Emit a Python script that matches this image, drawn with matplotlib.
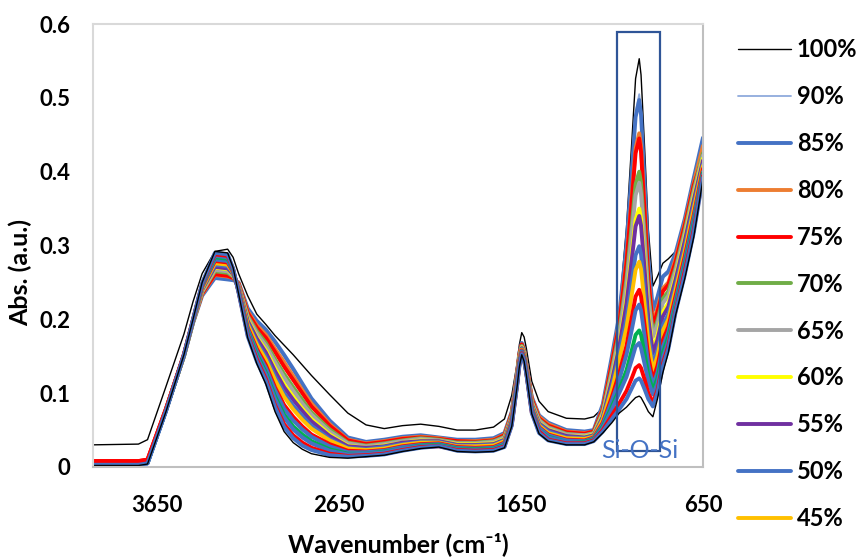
import matplotlib
matplotlib.use("Agg")
import matplotlib.pyplot as plt
from matplotlib.patches import Rectangle
from matplotlib.ticker import FuncFormatter

plt.rcParams['font.family'] = ['Lato', 'DejaVu Sans']

#---------------------------------------------------- wavenumbers (cm-1)
wavenumber = [4000, 3750, 3700, 3600, 3500, 3450, 3400, 3330, 3260, 3230,
              3200, 3150, 3100, 3050, 3000, 2950, 2900, 2850, 2800, 2700, 2600,
              2500, 2400, 2300, 2200, 2100, 2000, 1900,
              1800, 1740, 1700, 1670, 1658, 1645, 1632, 1620, 1590, 1550, 1500, 1400, 1300,
              1250, 1200, 1150, 1110, 1070, 1040, 1020, 1000, 990, 970, 950,
              925, 900, 870, 840, 800, 750, 700, 650]

#---------------------------------------------------- absorbance of each sample
abs_100 = [0.030, 0.031, 0.037, 0.108, 0.180, 0.224, 0.262, 0.292, 0.295, 0.284,
           0.262, 0.232, 0.207, 0.193, 0.178, 0.165, 0.152, 0.138, 0.124, 0.098, 0.073,
           0.057, 0.052, 0.056, 0.058, 0.055, 0.050, 0.050,
           0.054, 0.065, 0.097, 0.141, 0.166, 0.182, 0.176, 0.161, 0.116, 0.089, 0.075, 0.066, 0.065,
           0.068, 0.080, 0.120, 0.211, 0.324, 0.444, 0.526, 0.553, 0.531, 0.430, 0.322,
           0.245, 0.258, 0.276, 0.282, 0.292, 0.335, 0.385, 0.430]
abs_90 = [0.005, 0.005, 0.007, 0.077, 0.150, 0.195, 0.233, 0.257, 0.255, 0.253,
          0.249, 0.213, 0.196, 0.184, 0.167, 0.149, 0.130, 0.110, 0.090, 0.061, 0.039,
          0.033, 0.036, 0.040, 0.042, 0.040, 0.036, 0.036,
          0.038, 0.045, 0.074, 0.129, 0.154, 0.167, 0.159, 0.139, 0.094, 0.069, 0.059, 0.049, 0.047,
          0.050, 0.085, 0.148, 0.205, 0.304, 0.409, 0.481, 0.505, 0.485, 0.389, 0.288,
          0.215, 0.232, 0.256, 0.262, 0.287, 0.333, 0.388, 0.440]
abs_85 = [0.004, 0.004, 0.006, 0.076, 0.150, 0.195, 0.232, 0.256, 0.254, 0.253,
          0.250, 0.215, 0.198, 0.186, 0.170, 0.152, 0.133, 0.113, 0.093, 0.063, 0.040,
          0.034, 0.037, 0.041, 0.043, 0.040, 0.037, 0.037,
          0.039, 0.046, 0.075, 0.130, 0.155, 0.168, 0.160, 0.140, 0.095, 0.070, 0.060, 0.050, 0.048,
          0.050, 0.085, 0.150, 0.205, 0.301, 0.404, 0.474, 0.497, 0.477, 0.383, 0.283,
          0.212, 0.230, 0.258, 0.265, 0.290, 0.336, 0.392, 0.446]
abs_80 = [0.004, 0.004, 0.006, 0.076, 0.150, 0.196, 0.234, 0.260, 0.258, 0.256,
          0.249, 0.211, 0.192, 0.179, 0.160, 0.142, 0.123, 0.104, 0.086, 0.058, 0.037,
          0.032, 0.035, 0.039, 0.041, 0.039, 0.035, 0.035,
          0.037, 0.044, 0.073, 0.128, 0.153, 0.166, 0.158, 0.139, 0.093, 0.068, 0.058, 0.048, 0.046,
          0.048, 0.080, 0.142, 0.197, 0.281, 0.370, 0.432, 0.452, 0.434, 0.349, 0.259,
          0.195, 0.215, 0.242, 0.250, 0.282, 0.330, 0.385, 0.435]
abs_75 = [0.008, 0.008, 0.010, 0.078, 0.151, 0.197, 0.235, 0.261, 0.259, 0.256,
          0.248, 0.209, 0.189, 0.175, 0.156, 0.136, 0.118, 0.100, 0.082, 0.056, 0.036,
          0.031, 0.034, 0.038, 0.040, 0.038, 0.035, 0.034,
          0.036, 0.043, 0.072, 0.127, 0.152, 0.166, 0.157, 0.138, 0.092, 0.066, 0.056, 0.047, 0.045,
          0.048, 0.078, 0.140, 0.193, 0.276, 0.364, 0.425, 0.445, 0.427, 0.343, 0.254,
          0.190, 0.210, 0.238, 0.247, 0.278, 0.327, 0.382, 0.420]
abs_70 = [0.004, 0.004, 0.006, 0.076, 0.150, 0.196, 0.237, 0.265, 0.263, 0.258,
          0.246, 0.205, 0.184, 0.168, 0.146, 0.126, 0.108, 0.091, 0.074, 0.051, 0.033,
          0.029, 0.032, 0.036, 0.039, 0.037, 0.033, 0.033,
          0.035, 0.041, 0.070, 0.125, 0.150, 0.164, 0.156, 0.136, 0.089, 0.064, 0.054, 0.045, 0.043,
          0.046, 0.075, 0.132, 0.183, 0.255, 0.331, 0.383, 0.400, 0.385, 0.312, 0.235,
          0.180, 0.198, 0.228, 0.238, 0.270, 0.320, 0.376, 0.425]
abs_65 = [0.004, 0.004, 0.006, 0.076, 0.150, 0.197, 0.237, 0.267, 0.265, 0.259,
          0.246, 0.203, 0.181, 0.164, 0.142, 0.121, 0.103, 0.086, 0.071, 0.048, 0.032,
          0.028, 0.031, 0.035, 0.038, 0.036, 0.032, 0.032,
          0.034, 0.040, 0.069, 0.124, 0.149, 0.163, 0.155, 0.136, 0.088, 0.063, 0.053, 0.044, 0.043,
          0.045, 0.073, 0.128, 0.177, 0.246, 0.318, 0.368, 0.385, 0.370, 0.301, 0.228,
          0.176, 0.193, 0.222, 0.232, 0.266, 0.316, 0.372, 0.422]
abs_60 = [0.004, 0.004, 0.006, 0.076, 0.151, 0.197, 0.239, 0.270, 0.268, 0.260,
          0.244, 0.200, 0.176, 0.158, 0.134, 0.112, 0.095, 0.079, 0.065, 0.044, 0.029,
          0.026, 0.029, 0.033, 0.036, 0.035, 0.031, 0.031,
          0.032, 0.038, 0.067, 0.122, 0.148, 0.162, 0.154, 0.134, 0.086, 0.060, 0.051, 0.042, 0.041,
          0.044, 0.070, 0.120, 0.166, 0.227, 0.291, 0.335, 0.350, 0.337, 0.274, 0.208,
          0.160, 0.178, 0.210, 0.222, 0.258, 0.310, 0.366, 0.418]
abs_55 = [0.004, 0.004, 0.006, 0.076, 0.151, 0.197, 0.240, 0.271, 0.269, 0.261,
          0.244, 0.198, 0.174, 0.155, 0.130, 0.108, 0.091, 0.076, 0.062, 0.042, 0.028,
          0.026, 0.028, 0.033, 0.035, 0.035, 0.030, 0.030,
          0.031, 0.037, 0.067, 0.122, 0.147, 0.161, 0.153, 0.134, 0.085, 0.059, 0.050, 0.042, 0.040,
          0.043, 0.068, 0.117, 0.162, 0.221, 0.283, 0.326, 0.340, 0.327, 0.266, 0.201,
          0.154, 0.172, 0.204, 0.217, 0.254, 0.306, 0.362, 0.415]
abs_50 = [0.003, 0.003, 0.005, 0.075, 0.151, 0.197, 0.241, 0.274, 0.272, 0.262,
          0.243, 0.195, 0.169, 0.149, 0.123, 0.100, 0.083, 0.069, 0.056, 0.038, 0.026,
          0.024, 0.027, 0.031, 0.034, 0.034, 0.029, 0.029,
          0.030, 0.036, 0.065, 0.120, 0.146, 0.160, 0.152, 0.133, 0.084, 0.058, 0.048, 0.040, 0.039,
          0.042, 0.066, 0.110, 0.153, 0.201, 0.252, 0.287, 0.299, 0.288, 0.235, 0.180,
          0.140, 0.158, 0.192, 0.207, 0.246, 0.298, 0.355, 0.410]
abs_45 = [0.004, 0.004, 0.006, 0.076, 0.151, 0.198, 0.242, 0.276, 0.274, 0.263,
          0.242, 0.193, 0.166, 0.145, 0.118, 0.095, 0.078, 0.064, 0.052, 0.036, 0.025,
          0.023, 0.025, 0.030, 0.033, 0.033, 0.028, 0.028,
          0.029, 0.035, 0.064, 0.119, 0.145, 0.159, 0.151, 0.132, 0.082, 0.056, 0.046, 0.039, 0.038,
          0.041, 0.064, 0.105, 0.145, 0.189, 0.235, 0.267, 0.278, 0.268, 0.219, 0.168,
          0.131, 0.150, 0.185, 0.200, 0.240, 0.292, 0.350, 0.408]
abs_40 = [0.008, 0.008, 0.010, 0.078, 0.152, 0.199, 0.244, 0.279, 0.277, 0.264,
          0.240, 0.189, 0.160, 0.138, 0.108, 0.084, 0.068, 0.055, 0.044, 0.031, 0.022,
          0.021, 0.023, 0.028, 0.031, 0.032, 0.027, 0.026,
          0.027, 0.033, 0.062, 0.117, 0.143, 0.158, 0.149, 0.130, 0.080, 0.054, 0.044, 0.037, 0.036,
          0.040, 0.060, 0.095, 0.127, 0.164, 0.204, 0.231, 0.240, 0.231, 0.191, 0.149,
          0.118, 0.137, 0.172, 0.190, 0.232, 0.285, 0.342, 0.404]
abs_35 = [0.003, 0.003, 0.005, 0.075, 0.151, 0.198, 0.245, 0.281, 0.279, 0.265,
          0.240, 0.187, 0.157, 0.134, 0.104, 0.079, 0.063, 0.051, 0.041, 0.028, 0.020,
          0.020, 0.022, 0.027, 0.030, 0.031, 0.026, 0.025,
          0.026, 0.032, 0.061, 0.116, 0.142, 0.157, 0.148, 0.130, 0.079, 0.053, 0.043, 0.036, 0.035,
          0.039, 0.058, 0.090, 0.118, 0.152, 0.187, 0.212, 0.220, 0.212, 0.176, 0.138,
          0.111, 0.128, 0.163, 0.183, 0.226, 0.280, 0.338, 0.400]
abs_30 = [0.004, 0.004, 0.006, 0.076, 0.152, 0.199, 0.246, 0.284, 0.282, 0.266,
          0.238, 0.184, 0.153, 0.128, 0.096, 0.071, 0.055, 0.044, 0.035, 0.024, 0.018,
          0.018, 0.021, 0.025, 0.029, 0.030, 0.025, 0.024,
          0.025, 0.030, 0.059, 0.114, 0.140, 0.155, 0.147, 0.128, 0.077, 0.050, 0.041, 0.034, 0.034,
          0.038, 0.055, 0.082, 0.105, 0.131, 0.159, 0.179, 0.185, 0.179, 0.153, 0.124,
          0.104, 0.120, 0.155, 0.176, 0.220, 0.274, 0.332, 0.398]
abs_25 = [0.003, 0.003, 0.005, 0.075, 0.152, 0.199, 0.247, 0.286, 0.284, 0.267,
          0.238, 0.182, 0.150, 0.125, 0.092, 0.067, 0.051, 0.040, 0.032, 0.022, 0.017,
          0.018, 0.020, 0.025, 0.028, 0.029, 0.024, 0.023,
          0.024, 0.029, 0.059, 0.114, 0.139, 0.155, 0.146, 0.128, 0.076, 0.050, 0.040, 0.034, 0.033,
          0.037, 0.053, 0.078, 0.100, 0.122, 0.146, 0.163, 0.168, 0.161, 0.139, 0.116,
          0.098, 0.113, 0.148, 0.170, 0.216, 0.270, 0.328, 0.396]
abs_20 = [0.007, 0.007, 0.009, 0.077, 0.153, 0.200, 0.248, 0.288, 0.286, 0.268,
          0.237, 0.179, 0.146, 0.119, 0.084, 0.058, 0.043, 0.033, 0.026, 0.018, 0.015,
          0.016, 0.018, 0.023, 0.027, 0.028, 0.023, 0.022,
          0.023, 0.028, 0.057, 0.112, 0.138, 0.154, 0.145, 0.127, 0.074, 0.048, 0.037, 0.032, 0.032,
          0.036, 0.050, 0.070, 0.086, 0.103, 0.121, 0.134, 0.138, 0.134, 0.118, 0.100,
          0.087, 0.104, 0.140, 0.164, 0.212, 0.265, 0.322, 0.394]
abs_15 = [0.003, 0.003, 0.005, 0.075, 0.152, 0.200, 0.249, 0.290, 0.288, 0.269,
          0.236, 0.177, 0.143, 0.116, 0.081, 0.054, 0.039, 0.029, 0.023, 0.016, 0.014,
          0.015, 0.017, 0.022, 0.026, 0.028, 0.022, 0.021,
          0.022, 0.027, 0.056, 0.111, 0.137, 0.153, 0.144, 0.126, 0.073, 0.046, 0.036, 0.031, 0.031,
          0.035, 0.048, 0.065, 0.078, 0.092, 0.107, 0.117, 0.120, 0.117, 0.105, 0.092,
          0.082, 0.100, 0.136, 0.160, 0.210, 0.260, 0.318, 0.392]
abs_0 = [0.002, 0.002, 0.004, 0.074, 0.152, 0.200, 0.250, 0.292, 0.290, 0.270,
         0.235, 0.175, 0.140, 0.112, 0.075, 0.048, 0.033, 0.024, 0.018, 0.013, 0.012,
         0.014, 0.016, 0.021, 0.025, 0.027, 0.021, 0.020,
         0.021, 0.026, 0.055, 0.110, 0.136, 0.152, 0.143, 0.125, 0.072, 0.045, 0.035, 0.030, 0.030,
         0.034, 0.046, 0.060, 0.073, 0.081, 0.089, 0.094, 0.096, 0.094, 0.085, 0.075,
         0.068, 0.092, 0.128, 0.155, 0.206, 0.255, 0.312, 0.390]

series = [abs_100, abs_90, abs_85, abs_80, abs_75, abs_70, abs_65, abs_60, abs_55,
          abs_50, abs_45, abs_40, abs_35, abs_30, abs_25, abs_20, abs_15, abs_0]
labels = ['100%', '90%', '85%', '80%', '75%', '70%', '65%', '60%', '55%',
          '50%', '45%', '40%', '35%', '30%', '25%', '20%', '15%', '0%']
colors = ['#000000', '#8FAADC', '#4472C4', '#ED7D31', '#FF0000', '#70AD47', '#A5A5A5',
          '#FFFF00', '#7030A0', '#4472C4', '#FFC000', '#FF0000', '#4472C4', '#00B050',
          '#4472C4', '#FF0000', '#4472C4', '#000000']
widths = [1.0, 1.3] + [2.8] * 15 + [1.0]

#---------------------------------------------------- wykres
fig = plt.figure(figsize=(8.6, 5.57), dpi=100)
ax = fig.add_axes([0.108, 0.1616, 0.7094, 0.7953])

lines = []
for y, lab, c, lw in zip(series, labels, colors, widths):
    ln, = ax.plot(wavenumber, y, color=c, lw=lw, label=lab,
                  solid_joinstyle='round', solid_capstyle='round')
    lines.append(ln)

ax.set_xlim(4000, 650)
ax.set_ylim(0, 0.6)
ax.set_xticks([3650, 2650, 1650, 650])
ax.set_yticks([0, 0.1, 0.2, 0.3, 0.4, 0.5, 0.6])
ax.yaxis.set_major_formatter(FuncFormatter(lambda v, p: '0' if v == 0 else '%.1f' % v))
ax.tick_params(length=0, labelsize=16)
ax.tick_params(axis='x', pad=20)
ax.tick_params(axis='y', pad=16)
for t in ax.get_xticklabels() + ax.get_yticklabels():
    t.set_fontweight('bold')

for s in ['left', 'top']:
    ax.spines[s].set_color('#D9D9D9')
    ax.spines[s].set_linewidth(1.5)
for s in ['right', 'bottom']:
    ax.spines[s].set_color('#BFBFBF')
    ax.spines[s].set_linewidth(1.5)

ax.set_xlabel('Wavenumber (cm⁻¹)', fontsize=18, fontweight='bold')
ax.set_ylabel('Abs. (a.u.)', fontsize=18, fontweight='bold')
ax.xaxis.set_label_coords(0.5, -0.148)
ax.yaxis.set_label_coords(-0.10, 0.44)

# ramka wokol pasma Si-O-Si
ax.add_patch(Rectangle((886, 0.021), 1122 - 886, 0.589 - 0.021, fill=False,
                       edgecolor='#2F5597', lw=1.6, zorder=5))
ax.text(1000, 0.022, 'Si-O-Si', color='#4472C4', fontsize=18,
        ha='center', va='center', zorder=6)

fig.legend(handles=lines[:11], loc='upper left', bbox_to_anchor=(0.858, 0.931),
           frameon=False, prop={'weight': 'bold', 'size': 17},
           handlelength=2.25, handletextpad=0.25, labelspacing=1.01,
           borderaxespad=0, borderpad=0)

fig.savefig('out.png', dpi=100)
